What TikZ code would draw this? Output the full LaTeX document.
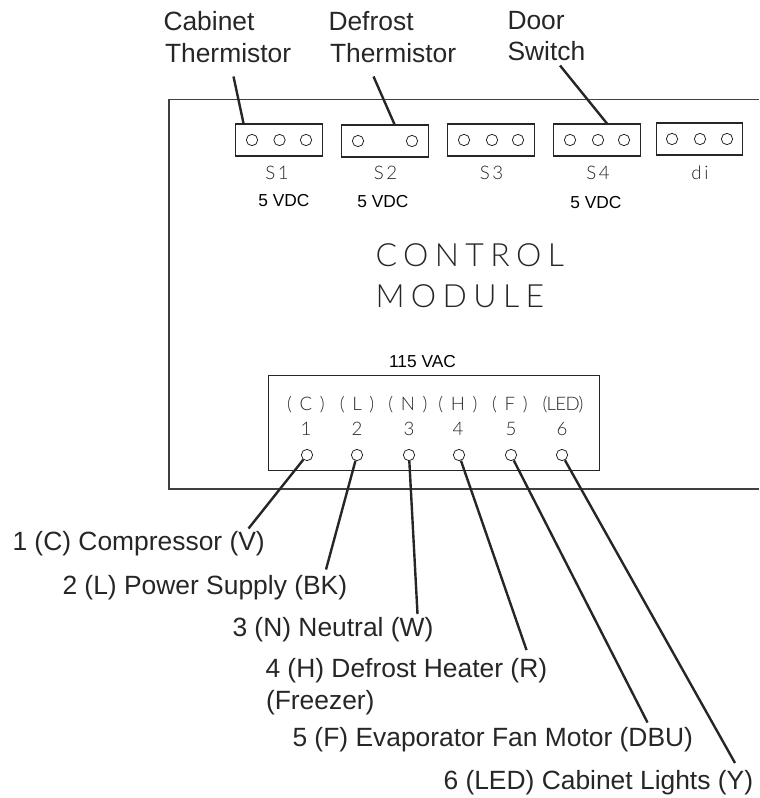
\documentclass[tikz,border=0pt]{standalone}
\usepackage{fontspec}
\setmainfont{Liberation Sans}
\newfontfamily\cadfont[UprightFont=* Light,LetterSpace=14]{Lato}
\newfontfamily\cadtitlefont[UprightFont=* Light,LetterSpace=20]{Lato}
\newfontfamily\cadtightfont[UprightFont=* Light,LetterSpace=-4]{Lato}
\tikzset{every picture/.style={line width=0.75pt}}
\tikzset{
  wire/.style={line width=1.8pt, color=black!85},
  plugbox/.style={draw=black!85, line width=0.8pt, minimum width=65pt, minimum height=24pt, inner sep=0pt},
  pinhole/.style={circle, draw=black!85, line width=0.6pt, minimum size=8.5pt, inner sep=0pt},
  calloutlabel/.style={anchor=base west, inner sep=0pt, font=\fontsize{19.8}{24}\selectfont, color=black!85},
  voltlabel/.style={inner sep=0.75pt, font=\fontsize{13}{15}\selectfont, color=black},
  cadlabel/.style={inner sep=0.75pt, font=\cadfont\fontsize{14}{16}\selectfont, color=black!85},
  cadled/.style={inner sep=0.75pt, font=\cadtightfont\fontsize{14}{16}\selectfont, color=black!85},
  cadtitle/.style={anchor=base west, inner sep=0pt, font=\cadtitlefont\fontsize{24}{28}\selectfont, color=black!85}
}
\begin{document}
\begin{tikzpicture}[x=0.75pt,y=0.75pt,yscale=-1,xscale=1]
\useasboundingbox (0,0) rectangle (759,798);

%Module outline
\draw [color=black!75, line width=0.8pt] (759,99.5) -- (169,99.5) -- (169,489) -- (759,489);

%Upper plugs
\node [plugbox] (s1box) at (279,140) {};
\node [plugbox] (s2box) at (385,141) {};
\node [plugbox] (s3box) at (491,140) {};
\node [plugbox] (s4box) at (597,140) {};
\node [plugbox] (dibox) at (699.5,139) {};

%Upper pins
\node [pinhole] (s1a) at (252,140) {};
\node [pinhole] (s1b) at (279.5,140) {};
\node [pinhole] (s1c) at (306,140) {};
\node [pinhole] (s2a) at (358,141) {};
\node [pinhole] (s2c) at (412,141) {};
\node [pinhole] (s3a) at (464,140) {};
\node [pinhole] (s3b) at (492,140) {};
\node [pinhole] (s3c) at (518,140) {};
\node [pinhole] (s4a) at (570,140) {};
\node [pinhole] (s4b) at (598,140) {};
\node [pinhole] (s4c) at (624,140) {};
\node [pinhole] (dia) at (672,139) {};
\node [pinhole] (dib) at (700,139) {};
\node [pinhole] (dic) at (727,139) {};

% Text Node
\node [cadlabel] (s1text) at (277,172.5) {S1};
\node [cadlabel] (s2text) at (385.5,172.5) {S2};
\node [cadlabel] (s3text) at (491.5,172.5) {S3};
\node [cadlabel] (s4text) at (598,172.5) {S4};
\node [cadlabel] (ditext) at (700,172.5) {di};
\node [voltlabel] (s1volt) at (284,200.5) {5 VDC};
\node [voltlabel] (s2volt) at (383,201.5) {5 VDC};
\node [voltlabel] (s4volt) at (596,203) {5 VDC};

% Text Node
\node [cadtitle] (controltext) at (375,266.5) {CONTROL};
\node [cadtitle] (moduletext) at (375,307) {MODULE};
\node [voltlabel] (vactext) at (422.5,362) {115 VAC};

%Terminal strip
\node [draw=black!85, line width=0.8pt, minimum width=248pt, minimum height=71.5pt, inner sep=0pt] (termbox) at (434,423) {};

%Terminal pins
\node [pinhole] (pin1) at (307,455) {};
\node [pinhole] (pin2) at (357,455) {};
\node [pinhole] (pin3) at (409,455) {};
\node [pinhole] (pin4) at (459,455) {};
\node [pinhole] (pin5) at (511,455) {};
\node [pinhole] (pin6) at (562,455) {};

% Text Node
\node [cadlabel] (tagc) at (306,405) {( C )};
\node [cadlabel] (tagl) at (357,405) {( L )};
\node [cadlabel] (tagn) at (408,405) {( N )};
\node [cadlabel] (tagh) at (458,405) {( H )};
\node [cadlabel] (tagf) at (510,405) {( F )};
\node [cadled] (tagled) at (563,405) {(LED)};
\node [cadlabel] (num1) at (306,429) {1};
\node [cadlabel] (num2) at (357,429) {2};
\node [cadlabel] (num3) at (409,429) {3};
\node [cadlabel] (num4) at (458,429) {4};
\node [cadlabel] (num5) at (511,429) {5};
\node [cadlabel] (num6) at (562,429) {6};

% Text Node
\node [calloutlabel] (cabinettext) at (163,30.5) {Cabinet};
\node [calloutlabel] (cabinettext2) at (164.5,62.5) {Thermistor};
\node [calloutlabel] (defrosttext) at (328,30.5) {Defrost};
\node [calloutlabel] (defrosttext2) at (329.5,62.5) {Thermistor};
\node [calloutlabel] (doortext) at (507,30) {Door};
\node [calloutlabel] (doortext2) at (507,61) {Switch};
\node [calloutlabel] (comptext) at (12,550.5) {1 (C) Compressor (V)};
\node [calloutlabel] (powertext) at (62,594) {2 (L) Power Supply (BK)};
\node [calloutlabel] (neutraltext) at (232,636) {3 (N) Neutral (W)};
\node [calloutlabel] (heatertext) at (265,677.5) {4 (H) Defrost Heater (R)};
\node [calloutlabel] (freezertext) at (265.5,709.5) {(Freezer)};
\node [calloutlabel] (fantext) at (292,746.5) {5 (F) Evaporator Fan Motor (DBU)};
\node [calloutlabel] (lighttext) at (443,789.5) {6 (LED) Cabinet Lights (Y)};

%Free wire ends
\coordinate (cabinetend) at (233.5,76.5);
\coordinate (defrostend) at (373.5,76.5);
\coordinate (doorend) at (560,65.5);
\coordinate (compend) at (248.5,528.5);
\coordinate (powerend) at (326,569.5);
\coordinate (neutralend) at (417.5,614);
\coordinate (heaterend) at (526.5,650);
\coordinate (fanend) at (647.5,722.5);
\coordinate (lightend) at (735,763);

%Straight Lines
\draw [wire] (cabinetend) -- (s1box.155);
\draw [wire] (defrostend) -- (s2box.60);
\draw [wire] (doorend) -- (s4box.59);
\draw [wire] (pin1) -- (compend);
\draw [wire] (pin2) -- (powerend);
\draw [wire] (pin3) -- (neutralend);
\draw [wire] (pin4) -- (heaterend);
\draw [wire] (pin5) -- (fanend);
\draw [wire] (pin6) -- (lightend);

\end{tikzpicture}
\end{document}
